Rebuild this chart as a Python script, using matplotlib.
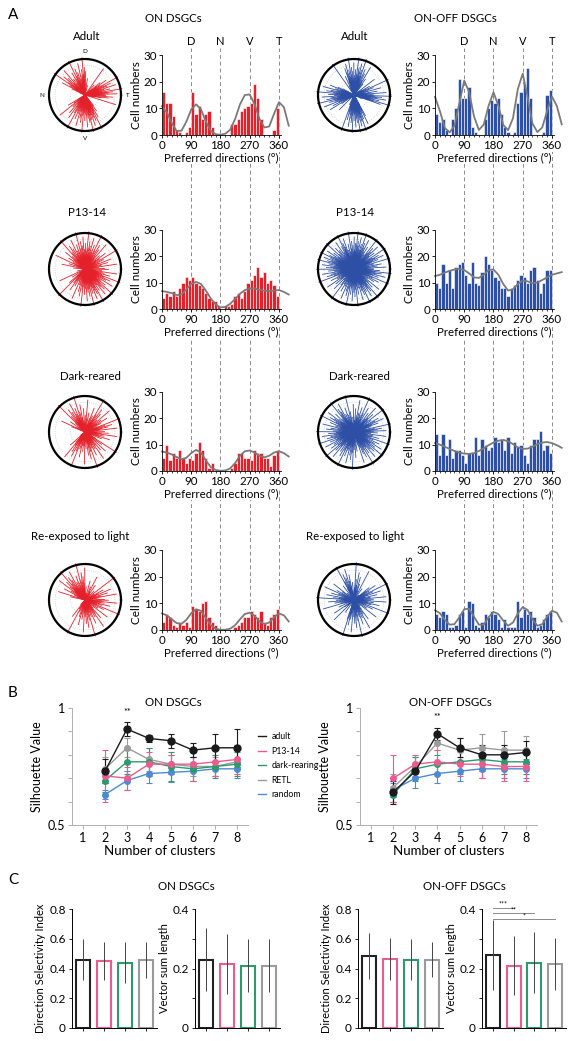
import numpy as np
import matplotlib
matplotlib.use('Agg')
import matplotlib.pyplot as plt
from matplotlib.lines import Line2D

plt.rcParams['font.family'] = ['Lato', 'DejaVu Sans']
W, H = 574, 1041

# ---------------- data ----------------
bin_starts = np.arange(0, 360, 10)          # 10 deg bins
fit_angles = np.arange(0, 391, 15)          # fit curve sampled every 15 deg

on_adult = [16, 12, 12, 7, 2, 1, 0, 1, 3, 16, 8, 11, 6, 8, 9, 3, 0, 0,
            0, 0, 0, 4, 4, 6, 9, 10, 11, 12, 19, 14, 6, 0, 0, 0, 2, 10]
on_p13 = [4, 6, 5, 7, 5, 8, 10, 12, 11, 12, 10, 9, 8, 6, 4, 3, 3, 1,
          0, 1, 1, 2, 5, 6, 4, 7, 10, 11, 13, 16, 12, 14, 10, 11, 9, 5]
on_dark = [5, 10, 4, 7, 5, 8, 5, 3, 5, 4, 7, 11, 8, 5, 1, 3, 0, 0,
           0, 0, 0, 1, 3, 7, 7, 5, 5, 4, 8, 7, 7, 5, 5, 2, 6, 8]
on_retl = [3, 6, 5, 2, 1, 3, 2, 3, 1, 9, 8, 7, 10, 11, 5, 3, 2, 0,
           0, 0, 0, 0, 1, 2, 3, 5, 5, 7, 6, 5, 7, 3, 2, 5, 6, 8]
onoff_adult = [8, 5, 6, 2, 0, 6, 10, 21, 14, 14, 18, 3, 1, 0, 0, 6, 10, 13,
               12, 14, 8, 3, 1, 0, 1, 12, 16, 19, 25, 14, 0, 0, 0, 1, 15, 17]
onoff_p13 = [10, 8, 17, 10, 15, 8, 16, 17, 18, 13, 10, 18, 10, 9, 14, 20, 17, 15,
             12, 11, 8, 8, 5, 8, 9, 11, 13, 12, 10, 15, 16, 11, 6, 10, 15, 15]
onoff_dark = [14, 6, 14, 6, 12, 5, 8, 8, 6, 3, 7, 7, 13, 6, 12, 10, 8, 9,
              13, 11, 12, 8, 13, 7, 11, 9, 10, 6, 3, 10, 12, 12, 15, 8, 10, 7]
onoff_retl = [6, 5, 7, 6, 1, 1, 2, 6, 7, 1, 11, 10, 2, 1, 3, 6, 5, 7,
              6, 4, 1, 4, 1, 1, 1, 11, 5, 8, 6, 7, 5, 1, 2, 4, 6, 7]

fit_on_adult = [10.8, 8.5, 4.5, 1.5, 1.6, 5.0, 9.6, 11.5, 9.6, 5.0, 1.6, 0.3, 0.1, 0.5,
                2.0, 6.0, 11.5, 15.0, 15.2, 11.5, 6.0, 2.8, 3.2, 8.0, 12.3, 10.5, 3.5]
fit_on_p13 = [6.8, 6.5, 6.0, 5.3, 5.5, 7.5, 9.5, 10.3, 9.5, 7.0, 4.0, 1.8, 0.6, 0.8,
              2.0, 3.8, 5.8, 7.2, 7.8, 7.8, 7.3, 7.0, 6.8, 7.0, 7.2, 6.5, 5.5]
fit_on_dark = [7.4, 7.0, 6.3, 5.3, 4.5, 5.0, 6.8, 8.0, 7.0, 4.0, 1.5, 0.4, 0.1, 0.2,
               1.0, 3.0, 5.8, 7.5, 7.8, 7.0, 5.8, 5.2, 5.8, 7.0, 7.5, 6.8, 5.5]
fit_on_retl = [6.2, 5.5, 4.0, 2.6, 2.3, 3.8, 6.3, 7.8, 7.2, 4.5, 1.8, 0.5, 0.1, 0.1,
               0.5, 1.8, 4.0, 6.0, 6.5, 5.3, 3.2, 2.2, 2.8, 4.8, 6.2, 5.5, 3.2]
fit_onoff_adult = [14.3, 9.0, 2.7, 1.0, 3.5, 12.0, 20.4, 16.1, 7.0, 1.9, 3.9, 11.0, 16.0, 11.0,
                   3.8, 1.8, 6.3, 17.3, 23.0, 14.2, 4.3, 1.1, 2.8, 9.0, 14.4, 10.9, 4.0]
fit_onoff_p13 = [12.5, 13.0, 13.8, 14.5, 15.0, 15.2, 14.8, 13.5, 12.0, 11.8, 13.0, 14.8, 15.0, 13.0,
                 9.5, 7.0, 7.5, 9.5, 10.8, 10.5, 9.8, 10.0, 11.0, 12.0, 13.0, 13.5, 14.0]
fit_onoff_dark = [10.6, 10.0, 9.2, 8.4, 7.6, 7.0, 6.6, 6.5, 6.8, 7.6, 8.6, 9.8, 10.8, 11.5,
                  11.8, 11.3, 10.2, 9.0, 8.4, 8.5, 9.2, 10.2, 10.8, 11.0, 10.6, 9.8, 8.8]
fit_onoff_retl = [7.4, 6.3, 3.8, 2.0, 2.2, 4.8, 7.8, 8.0, 5.0, 2.0, 2.0, 4.8, 6.8, 6.0,
                  3.5, 1.6, 2.8, 6.2, 8.6, 7.5, 4.0, 1.6, 2.2, 5.0, 7.2, 6.5, 3.2]

row_titles = ['Adult', 'P13-14', 'Dark-reared', 'Re-exposed to light']
# spoke lengths (fraction of circle radius), reused cyclically
spoke_len = [0.55, 0.2, 0.38, 0.9, 0.28, 0.47, 0.15, 0.66, 0.33, 0.24, 0.78, 0.42,
             0.18, 0.58, 0.3, 1.05, 0.36, 0.22, 0.5, 0.27, 0.72, 0.4, 0.16]

# panel B: silhouette values, k = 2..8
n_clusters = [2, 3, 4, 5, 6, 7, 8]
groups = ['adult', 'P13-14', 'dark-rearing', 'RETL', 'random']
on_sil = {
    'adult': [0.73, 0.91, 0.87, 0.86, 0.82, 0.83, 0.83],
    'P13-14': [0.71, 0.70, 0.76, 0.76, 0.76, 0.77, 0.78],
    'dark-rearing': [0.69, 0.77, 0.77, 0.75, 0.74, 0.75, 0.76],
    'RETL': [0.74, 0.83, 0.78, 0.76, 0.75, 0.75, 0.77],
    'random': [0.63, 0.69, 0.72, 0.725, 0.73, 0.74, 0.74]}
on_sil_err = {
    'adult': [0.05, 0.03, 0.015, 0.03, 0.03, 0.06, 0.08],
    'P13-14': [0.11, 0.05, 0.05, 0.04, 0.07, 0.06, 0.06],
    'dark-rearing': [0.05, 0.05, 0.06, 0.06, 0.05, 0.05, 0.05],
    'RETL': [0.05, 0.04, 0.05, 0.04, 0.04, 0.04, 0.05],
    'random': [0.02, 0.04, 0.04, 0.04, 0.04, 0.03, 0.04]}
onoff_sil = {
    'adult': [0.64, 0.73, 0.89, 0.83, 0.80, 0.80, 0.81],
    'P13-14': [0.70, 0.76, 0.77, 0.76, 0.76, 0.75, 0.75],
    'dark-rearing': [0.63, 0.74, 0.76, 0.77, 0.78, 0.77, 0.77],
    'RETL': [0.66, 0.75, 0.85, 0.82, 0.83, 0.82, 0.82],
    'random': [0.65, 0.70, 0.72, 0.73, 0.74, 0.74, 0.74]}
onoff_sil_err = {
    'adult': [0.05, 0.03, 0.025, 0.04, 0.04, 0.04, 0.05],
    'P13-14': [0.10, 0.04, 0.05, 0.05, 0.06, 0.06, 0.06],
    'dark-rearing': [0.03, 0.05, 0.04, 0.05, 0.05, 0.05, 0.05],
    'RETL': [0.06, 0.04, 0.03, 0.05, 0.06, 0.08, 0.06],
    'random': [0.03, 0.04, 0.04, 0.04, 0.04, 0.04, 0.04]}

# panel C
on_dsi = [0.46, 0.45, 0.44, 0.455]
on_dsi_err = [0.14, 0.13, 0.135, 0.12]
on_vsl = [0.23, 0.215, 0.21, 0.21]
on_vsl_err = [0.107, 0.1, 0.09, 0.09]
onoff_dsi = [0.485, 0.465, 0.46, 0.46]
onoff_dsi_err = [0.157, 0.14, 0.14, 0.12]
onoff_vsl = [0.245, 0.21, 0.22, 0.215]
onoff_vsl_err = [0.118, 0.1, 0.102, 0.088]
sig_pairs = [(1, 2, '***'), (1, 3, '**'), (1, 4, '*')]
sig_y = [0.405, 0.385, 0.366]

RED = '#e4202a'
BLUE = '#2d4fa5'
grp_col = {'adult': '#1a1a1a', 'P13-14': '#ec5b8f', 'dark-rearing': '#2b9b6b',
           'RETL': '#9b9b9b', 'random': '#4c8ad2'}
bar_cols = ['#222222', '#ec5b8f', '#2b9b6b', '#9b9b9b']

fig = plt.figure(figsize=(W / 100, H / 100), dpi=100)


def rect(x0, y0, x1, y1):
    return [x0 / W, 1 - y1 / H, (x1 - x0) / W, (y1 - y0) / H]


HW = 118.6  # histogram width in px for 0-365 deg
# dashed guide lines (drawn first, behind everything)
for x0 in [162, 435]:
    ov = fig.add_axes(rect(x0, 48, x0 + HW, 630))
    ov.set_xlim(0, 365)
    ov.set_ylim(0, 1)
    ov.axis('off')
    for d in [90, 180, 270, 360]:
        ov.axvline(d, color='#8c8c8c', lw=0.7, dashes=(4, 3))


def polar_panel(cx, cy, counts, color, dnvt=False):
    r = 36
    ax = fig.add_axes(rect(cx - r, cy - r, cx + r, cy + r), projection='polar')
    ax.set_ylim(0, 1)
    ax.axis('off')
    th = np.linspace(0, 2 * np.pi, 300)
    for rr in [0.4, 0.83]:
        ax.plot(th, np.full(300, rr), color='#c8c8c8', lw=0.6, ls=':')
    thetas, lens = [], []
    k = 0
    for i, n in enumerate(counts):
        for j in range(n):
            thetas.append(np.deg2rad(bin_starts[i] + 10 * (j + 0.5) / n))
            lens.append(spoke_len[k % len(spoke_len)])
            k += 1
    ax.vlines(thetas, 0, lens, colors=color, lw=0.6, clip_on=False)
    ax.plot(th, np.ones(300), color='k', lw=1.6, clip_on=False)
    if dnvt:
        for ang, lbl in [(90, 'D'), (180, 'N'), (0, 'T'), (270, 'V')]:
            ax.text(np.deg2rad(ang), 1.2, lbl, fontsize=4.5, ha='center', va='center')


def hist_panel(x0, y0, y1, counts, fit, color, dnvt=False):
    ax = fig.add_axes(rect(x0, y0, x0 + HW, y1))
    ax.patch.set_alpha(0)
    ax.bar(bin_starts, counts, width=10, align='edge', color=color,
           edgecolor='white', linewidth=0.4)
    ax.plot(fit_angles, fit, color='#7a7a7a', lw=1.3, clip_on=False)
    ax.set_xlim(0, 365)
    ax.set_ylim(0, 30)
    ax.set_xticks([0, 90, 180, 270, 360])
    ax.set_xticks(np.arange(0, 361, 15), minor=True)
    ax.set_yticks([0, 10, 20, 30])
    for s in ['top', 'right']:
        ax.spines[s].set_visible(False)
    for s in ['left', 'bottom']:
        ax.spines[s].set_linewidth(0.6)
    ax.tick_params(labelsize=8.3, length=2.5, width=0.6, pad=1)
    ax.tick_params(which='minor', length=1.5, width=0.5)
    ax.set_ylabel('Cell numbers', fontsize=8.5, labelpad=1)
    ax.set_xlabel('Preferred directions (°)', fontsize=8.3, labelpad=1,
                  bbox=dict(fc='white', ec='none', pad=0.5))
    for lbl in ax.get_xticklabels():
        lbl.set_bbox(dict(fc='white', ec='none', pad=0.5))
    if dnvt:
        for d, lbl in [(90, 'D'), (180, 'N'), (270, 'V'), (360, 'T')]:
            ax.text(d, 35, lbl, fontsize=8, ha='center', va='center', clip_on=False)


rows_y = [(55, 135), (230, 309), (392, 471), (550, 630)]
polar_y = [95, 269, 432, 600]
title_y = [37, 212, 377, 537]
on_counts = [on_adult, on_p13, on_dark, on_retl]
onoff_counts = [onoff_adult, onoff_p13, onoff_dark, onoff_retl]
on_fits = [fit_on_adult, fit_on_p13, fit_on_dark, fit_on_retl]
onoff_fits = [fit_onoff_adult, fit_onoff_p13, fit_onoff_dark, fit_onoff_retl]
on_tx = [87, 87, 90, 80]
onoff_tx = [355, 355, 359, 355]

for i in range(4):
    polar_panel(85, polar_y[i], on_counts[i], RED, dnvt=(i == 0))
    polar_panel(354, polar_y[i], onoff_counts[i], BLUE)
    hist_panel(162, rows_y[i][0], rows_y[i][1], on_counts[i], on_fits[i], RED, dnvt=(i == 0))
    hist_panel(435, rows_y[i][0], rows_y[i][1], onoff_counts[i], onoff_fits[i], BLUE, dnvt=(i == 0))
    fig.text(on_tx[i] / W, 1 - title_y[i] / H, row_titles[i], fontsize=8.3, ha='center', va='center')
    fig.text(onoff_tx[i] / W, 1 - title_y[i] / H, row_titles[i], fontsize=8.3, ha='center', va='center')

fig.text(8 / W, 1 - 15 / H, 'A', fontsize=11, va='center')
fig.text(173 / W, 1 - 18 / H, 'ON DSGCs', fontsize=8.3, ha='center', va='center')
fig.text(455 / W, 1 - 18 / H, 'ON-OFF DSGCs', fontsize=8.3, ha='center', va='center')


# ---------------- panel B ----------------
def sil_panel(x0, x1, sil, err, title, star_k, tx):
    ax = fig.add_axes(rect(x0, 708, x1, 825))
    for g in ['random', 'RETL', 'dark-rearing', 'P13-14', 'adult']:
        ms = 5 if g == 'adult' else 4
        ax.errorbar(n_clusters, sil[g], yerr=err[g], color=grp_col[g], marker='o', ms=ms,
                    lw=1.0, elinewidth=0.8, capsize=2, capthick=0.8, clip_on=False)
    ax.set_xlim(0.5, 8.5)
    ax.set_ylim(0.5, 1)
    ax.set_xticks(range(1, 9))
    ax.set_yticks([0.5, 1])
    ax.set_yticklabels(['0.5', '1'])
    ax.set_yticks(np.arange(0.6, 0.95, 0.1), minor=True)
    for s in ['top', 'right']:
        ax.spines[s].set_visible(False)
    for s in ['left', 'bottom']:
        ax.spines[s].set_color('#b0b0b0')
        ax.spines[s].set_linewidth(0.7)
    ax.tick_params(which='both', color='#b0b0b0', labelsize=9, length=3, width=0.7, pad=2)
    ax.set_xlabel('Number of clusters', fontsize=9.5, labelpad=1)
    ax.set_ylabel('Silhouette Value', fontsize=9, labelpad=3)
    ax.text(star_k, sil['adult'][star_k - 2] + 0.05, '**', fontsize=6.5, ha='center', va='bottom')
    fig.text(tx / W, 1 - 703 / H, title, fontsize=8.3, ha='center', va='center')
    return ax


sil_panel(72, 248, on_sil, on_sil_err, 'ON DSGCs', 3, 173)
sil_panel(360, 537, onoff_sil, onoff_sil_err, 'ON-OFF DSGCs', 4, 450)
fig.text(8 / W, 1 - 693 / H, 'B', fontsize=11, va='center')
handles = [Line2D([], [], color=grp_col[g], lw=1) for g in groups]
fig.legend(handles, groups, loc='upper left', bbox_to_anchor=(254 / W, 1 - 728 / H),
           frameon=False, fontsize=6.3, handlelength=0.9, handletextpad=0.6,
           labelspacing=0.62, borderpad=0)


# ---------------- panel C ----------------
def bar_panel(x0, x1, vals, errs, top, ylabel, yticks, ylabels):
    ax = fig.add_axes(rect(x0, 909, x1, 1028))
    pos = np.arange(1, 5)
    ax.bar(pos, vals, width=0.68, facecolor='white', edgecolor=bar_cols, linewidth=1.5)
    v = np.array(vals)
    e = np.array(errs)
    ax.vlines(pos, v - e, v + e, color='#444444', lw=0.7)
    ax.set_xlim(0.45, 4.55)
    ax.set_ylim(0, top)
    ax.set_xticks(pos)
    ax.set_xticklabels([])
    ax.set_yticks(yticks)
    ax.set_yticklabels(ylabels)
    ax.set_yticks([top / 4, 3 * top / 4], minor=True)
    for s in ['top', 'right']:
        ax.spines[s].set_visible(False)
    for s in ['left', 'bottom']:
        ax.spines[s].set_linewidth(0.7)
    ax.tick_params(which='both', labelsize=8.5, length=2.5, width=0.6, pad=2)
    ax.set_ylabel(ylabel, fontsize=8, labelpad=2)
    return ax


dsi_ticks = [0, 0.2, 0.4, 0.6, 0.8]
dsi_lbls = ['0', '0.2', '0.4', '0.6', '0.8']
vsl_ticks = [0, 0.2, 0.4]
vsl_lbls = ['0', '0.2', '0.4']
a1 = bar_panel(72, 157, on_dsi, on_dsi_err, 0.8, 'Direction Selectivity Index', dsi_ticks, dsi_lbls)
a1.set_yticks([], minor=True)
bar_panel(195, 280, on_vsl, on_vsl_err, 0.4, 'Vector sum length', vsl_ticks, vsl_lbls)
a3 = bar_panel(358, 443, onoff_dsi, onoff_dsi_err, 0.8, 'Direction Selectivity Index', dsi_ticks, dsi_lbls)
a3.set_yticks([], minor=True)
a4 = bar_panel(482, 566, onoff_vsl, onoff_vsl_err, 0.4, 'Vector sum length', vsl_ticks, vsl_lbls)
for (b0, b1, star), yy in zip(sig_pairs, sig_y):
    a4.plot([b0, b1], [yy, yy], color='#8a8a8a', lw=0.7, clip_on=False)
    a4.text((b0 + b1) / 2, yy, star, fontsize=5, ha='center', va='bottom', clip_on=False)

fig.text(8 / W, 1 - 880 / H, 'C', fontsize=11, va='center')
fig.text(186 / W, 1 - 887 / H, 'ON DSGCs', fontsize=8.3, ha='center', va='center')
fig.text(464 / W, 1 - 887 / H, 'ON-OFF DSGCs', fontsize=8.3, ha='center', va='center')

fig.savefig('out.png', dpi=100)
